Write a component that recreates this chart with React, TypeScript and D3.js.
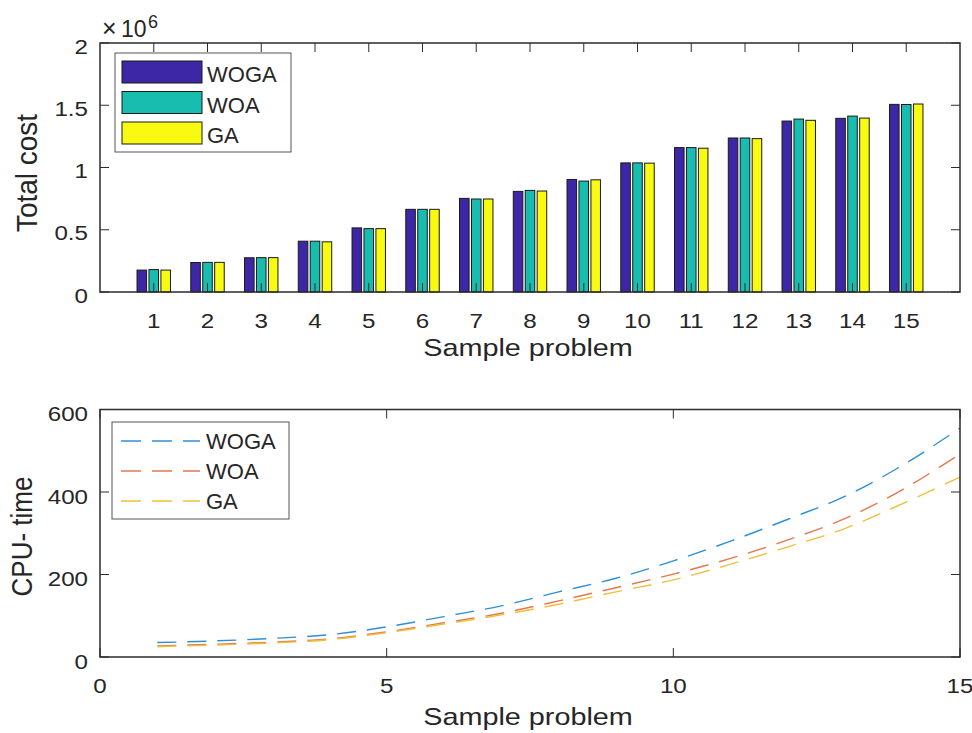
import React from "react";
import * as d3 from "d3";

// ---------- data ----------
const problems = [1, 2, 3, 4, 5, 6, 7, 8, 9, 10, 11, 12, 13, 14, 15];
const seriesNames = ["WOGA", "WOA", "GA"];
// Total cost (units of 10^6)
const wogaCost = [0.176, 0.237, 0.275, 0.408, 0.515, 0.664, 0.752, 0.808, 0.904, 1.037, 1.16, 1.237, 1.373, 1.395, 1.507];
const woaCost = [0.18, 0.238, 0.276, 0.408, 0.509, 0.664, 0.747, 0.816, 0.891, 1.037, 1.16, 1.237, 1.389, 1.413, 1.506];
const gaCost = [0.176, 0.238, 0.276, 0.403, 0.509, 0.664, 0.747, 0.811, 0.901, 1.035, 1.155, 1.232, 1.379, 1.397, 1.51];
// CPU time
const wogaCpu = [35, 39, 45, 54, 73, 98, 124, 158, 191, 233, 281, 334, 390, 465, 555];
const woaCpu = [27, 31, 36, 44, 61, 83, 106, 136, 168, 201, 239, 284, 336, 406, 492];
const gaCpu = [25, 29, 34, 42, 59, 80, 102, 128, 158, 187, 225, 267, 312, 372, 436];
// ticks
const costTicks = [0, 0.5, 1, 1.5, 2];
const costTickLabels = ["0", "0.5", "1", "1.5", "2"];
const cpuTicks = [0, 200, 400, 600];
const cpuXTicks = [0, 5, 10, 15];

const barColors = ["#3e27a6", "#18bdaf", "#f8fa12"];
const lineColors = ["#2f8fd6", "#e3784d", "#efbf3c"];

const FONT = "'Liberation Sans', Arial, Helvetica, sans-serif";
const AX = "#2b2b2b";
const TXT = "#262626";

function Txt(props: any) {
  const { x, y, size, sx = 1, anchor = "start", rotate = 0, children, fill = TXT } = props;
  const t = `translate(${x},${y}) scale(${sx},1)` + (rotate ? ` rotate(${rotate})` : "");
  return (
    <text transform={t} fontSize={size} textAnchor={anchor} fill={fill} fontFamily={FONT}>
      {children}
    </text>
  );
}

export default function App() {
  // ---- top chart ----
  const t = { l: 100, r: 960, t: 43, b: 292 };
  const xTop = d3.scaleLinear().domain([0, 16]).range([t.l, t.r]);
  const yTop = d3.scaleLinear().domain([0, 2]).range([t.b, t.t]);
  const costSeries = [wogaCost, woaCost, gaCost];
  const groupW = Math.min(0.8, 3 / 4.5);
  const slot = groupW / 3;
  const barW = slot * 0.8;

  // ---- bottom chart ----
  const bm = { l: 100, r: 960, t: 409.5, b: 657 };
  const xBot = d3.scaleLinear().domain([0, 15]).range([bm.l, bm.r]);
  const yBot = d3.scaleLinear().domain([0, 600]).range([bm.b, bm.t]);
  const cpuSeries = [wogaCpu, woaCpu, gaCpu];
  const line = d3
    .line<number>()
    .x((_, i) => xBot(problems[i]))
    .y((d) => yBot(d))
    .curve(d3.curveMonotoneX);

  const tickLen = 9;
  const tickSize = 21;
  const tickSx = 1.15;

  return (
    <svg width={972} height={733} style={{ position: "absolute", left: 0, top: 0, background: "#fff" }}>
      <rect x={0} y={0} width={972} height={733} fill="#fff" />

      {/* ===== TOP: bars ===== */}
      {costSeries.map((s, si) =>
        s.map((v, i) => {
          const cx = xTop(problems[i]) + xTop(slot * (si - 1)) - xTop(0);
          const w = xTop(barW) - xTop(0);
          return (
            <rect
              key={`b${si}-${i}`}
              x={cx - w / 2}
              y={yTop(v)}
              width={w}
              height={yTop(0) - yTop(v)}
              fill={barColors[si]}
              stroke="#1a1a1a"
              strokeWidth={1}
            />
          );
        })
      )}
      {/* top axes box */}
      <rect x={t.l} y={t.t} width={t.r - t.l} height={t.b - t.t} fill="none" stroke={AX} strokeWidth={1.5} />
      {problems.map((p) => (
        <g key={`tx${p}`}>
          <line x1={xTop(p)} x2={xTop(p)} y1={t.b} y2={t.b - tickLen} stroke={AX} strokeWidth={1} />
          <line x1={xTop(p)} x2={xTop(p)} y1={t.t} y2={t.t + tickLen} stroke={AX} strokeWidth={1} />
          <Txt x={xTop(p)} y={328} size={tickSize} sx={tickSx} anchor="middle">
            {p}
          </Txt>
        </g>
      ))}
      {costTicks.map((v, i) => (
        <g key={`ty${i}`}>
          <line x1={t.l} x2={t.l + tickLen} y1={yTop(v)} y2={yTop(v)} stroke={AX} strokeWidth={1} />
          <line x1={t.r} x2={t.r - tickLen} y1={yTop(v)} y2={yTop(v)} stroke={AX} strokeWidth={1} />
          <Txt x={88} y={yTop(v) + 10.5} size={tickSize} sx={tickSx} anchor="end">
            {costTickLabels[i]}
          </Txt>
        </g>
      ))}
      {/* exponent */}
      <Txt x={102} y={37} size={25}>
        ×
      </Txt>
      <Txt x={121} y={37} size={23}>
        10
      </Txt>
      <Txt x={148} y={28} size={18}>
        6
      </Txt>
      <Txt x={528} y={356} size={24} sx={1.2} anchor="middle">
        Sample problem
      </Txt>
      <Txt x={37} y={173} size={28} sx={1.08} anchor="middle" rotate={-90}>
        Total cost
      </Txt>
      {/* top legend */}
      <rect x={115} y={53} width={176} height={99} fill="#fff" stroke="#555" strokeWidth={1} />
      {seriesNames.map((n, i) => (
        <g key={`lg${n}`}>
          <rect x={122} y={61 + i * 30.5} width={80} height={22} fill={barColors[i]} stroke="#1a1a1a" strokeWidth={1} />
          <Txt x={207} y={82 + i * 30.5} size={22}>
            {n}
          </Txt>
        </g>
      ))}

      {/* ===== BOTTOM: lines ===== */}
      {cpuSeries.map((s, si) => (
        <path
          key={`l${si}`}
          d={line(s) || ""}
          fill="none"
          stroke={lineColors[si]}
          strokeWidth={1.4}
          strokeDasharray="19,11"
        />
      ))}
      <rect x={bm.l} y={bm.t} width={bm.r - bm.l} height={bm.b - bm.t} fill="none" stroke={AX} strokeWidth={1.5} />
      {cpuXTicks.map((v) => (
        <g key={`bx${v}`}>
          <line x1={xBot(v)} x2={xBot(v)} y1={bm.b} y2={bm.b - tickLen} stroke={AX} strokeWidth={1} />
          <line x1={xBot(v)} x2={xBot(v)} y1={bm.t} y2={bm.t + tickLen} stroke={AX} strokeWidth={1} />
          <Txt x={xBot(v)} y={693} size={tickSize} sx={tickSx} anchor="middle">
            {v}
          </Txt>
        </g>
      ))}
      {cpuTicks.map((v) => (
        <g key={`by${v}`}>
          <line x1={bm.l} x2={bm.l + tickLen} y1={yBot(v)} y2={yBot(v)} stroke={AX} strokeWidth={1} />
          <line x1={bm.r} x2={bm.r - tickLen} y1={yBot(v)} y2={yBot(v)} stroke={AX} strokeWidth={1} />
          <Txt x={88} y={yBot(v) + 11.5} size={tickSize} sx={tickSx} anchor="end">
            {v}
          </Txt>
        </g>
      ))}
      <Txt x={528} y={725} size={24} sx={1.2} anchor="middle">
        Sample problem
      </Txt>
      <Txt x={32} y={536.5} size={26} sx={1.15} anchor="middle" rotate={-90}>
        CPU- time
      </Txt>
      {/* bottom legend */}
      <rect x={112} y={422} width={177} height={97} fill="#fff" stroke="#555" strokeWidth={1} />
      {seriesNames.map((n, i) => (
        <g key={`lb${n}`}>
          <line
            x1={121}
            x2={200}
            y1={441 + i * 30}
            y2={441 + i * 30}
            stroke={lineColors[i]}
            strokeWidth={1.4}
            strokeDasharray="20,11"
          />
          <Txt x={206} y={449 + i * 30} size={22}>
            {n}
          </Txt>
        </g>
      ))}
    </svg>
  );
}
